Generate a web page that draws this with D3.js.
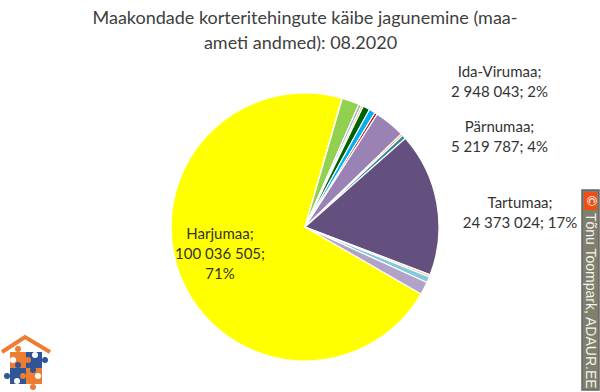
<!DOCTYPE html>
<html>
<head>
<meta charset="utf-8">
<script src="https://cdn.jsdelivr.net/npm/d3@7"></script>
<style>
html, body { margin: 0; padding: 0; background: #fff; }
text { font-family: Lato, "Open Sans", sans-serif; fill: #333; }
</style>
</head>
<body>
<div id="chart"></div>
<script>
// Values, clockwise from the Harjumaa slice
const counties = ['Harjumaa', 'Hiiumaa', 'Ida-Virumaa', 'Jõgevamaa', 'Järvamaa', 'Läänemaa', 'Lääne-Virumaa', 'Põlvamaa', 'Pärnumaa', 'Raplamaa', 'Saaremaa', 'Tartumaa', 'Valgamaa', 'Viljandimaa', 'Võrumaa'];
const turnover = [100036505, 60000, 2948043, 450000, 350000, 1180000, 1050000, 450000, 5219787, 350000, 650000, 24373024, 400000, 1000000, 2150000];
const colors = ['#ffff00', '#4f81bd', '#92d050', '#8faadc', '#ffc000', '#006100', '#00b0f0', '#c00000', '#9b82b4', '#f79646', '#31859c', '#64507f', '#fac090', '#84c8dc', '#b3a2c7'];

const titleLines = ['Maakondade korteritehingute käibe jagunemine (maa-', 'ameti andmed): 08.2020'];
const labelled = [
    {lines: ['Harjumaa;', '100 036 505;', '71%'], x: 220, y: 239},
    {lines: ['Ida-Virumaa;', '2 948 043; 2%'], x: 499.5, y: 77},
    {lines: ['Pärnumaa;', '5 219 787; 4%'], x: 499.5, y: 132},
    {lines: ['Tartumaa;', '24 373 024; 17%'], x: 520, y: 208}
];

const width = 600, height = 392;
const cx = 305, cy = 227, radius = 134;
const firstAngle = 120 * Math.PI / 180;

const svg = d3.select('#chart').append('svg')
    .attr('width', width)
    .attr('height', height)
    .style('display', 'block');

// Pie
const pie = d3.pie().sort(null).startAngle(firstAngle).endAngle(firstAngle + 2 * Math.PI);
const arc = d3.arc().innerRadius(0).outerRadius(radius);

svg.append('g')
    .attr('transform', `translate(${cx},${cy})`)
    .selectAll('path')
    .data(pie(turnover))
    .join('path')
    .attr('d', arc)
    .attr('fill', (d, i) => colors[i])
    .attr('stroke', '#fff')
    .attr('stroke-width', 1.2);

// Title
svg.append('text')
    .attr('text-anchor', 'middle')
    .style('font-size', '18px')
    .style('fill', '#404040')
    .selectAll('tspan')
    .data(titleLines)
    .join('tspan')
    .attr('x', (d, i) => i ? 300.5 : 305)
    .attr('y', (d, i) => 24 + i * 25)
    .text(d => d);

// Data labels
labelled.forEach(l => {
    svg.append('text')
        .attr('text-anchor', 'middle')
        .style('font-size', '15px')
        .selectAll('tspan')
        .data(l.lines)
        .join('tspan')
        .attr('x', l.x)
        .attr('y', (d, i) => l.y + i * 20)
        .text(d => d);
});

// Watermark strip on the right
const strip = svg.append('g').attr('transform', 'translate(582,190)');
strip.append('rect').attr('width', 17).attr('height', 200).attr('fill', '#7f7f6b').attr('stroke', '#666').attr('stroke-width', 1.5);
strip.append('rect').attr('x', 2).attr('y', 2).attr('width', 13).attr('height', 18).attr('fill', '#f04e12');
strip.append('text')
    .attr('transform', 'translate(8.5,11) rotate(90)')
    .attr('text-anchor', 'middle')
    .attr('dominant-baseline', 'middle')
    .style('font-size', '13px')
    .style('fill', '#fff')
    .text('©');
strip.append('text')
    .attr('transform', 'translate(4,23) rotate(90)')
    .style('font-family', '"Liberation Sans", sans-serif')
    .style('font-size', '14px')
    .style('fill', '#f2f2f2')
    .text('Tõnu Toompark, ADAUR.EE');

// Logo, bottom left
const logo = svg.append('g');
logo.append('path')
    .attr('d', 'M2,352 L25,337 L50,352')
    .attr('fill', 'none')
    .attr('stroke', '#ed7d31')
    .attr('stroke-width', 4);
const pieces = [[10, 352, '#ed7d31'], [26, 352, '#2f5597'], [10, 368, '#2f5597'], [26, 368, '#ed7d31']];
logo.selectAll('rect')
    .data(pieces)
    .join('rect')
    .attr('x', d => d[0])
    .attr('y', d => d[1])
    .attr('width', 16)
    .attr('height', 16)
    .attr('fill', d => d[2]);
const knobs = [[18, 349, '#ed7d31'], [45, 360, '#2f5597'], [7, 376, '#2f5597'], [33, 387, '#ed7d31'], [18, 365, '#2f5597'], [28, 360, '#ed7d31'], [23, 376, '#ed7d31'], [33, 370, '#2f5597'], [13, 360, '#fff'], [38, 376, '#fff'], [35, 355, '#fff'], [17, 381, '#fff']];
logo.selectAll('circle')
    .data(knobs)
    .join('circle')
    .attr('cx', d => d[0])
    .attr('cy', d => d[1])
    .attr('r', 3)
    .attr('fill', d => d[2]);
</script>
</body>
</html>
